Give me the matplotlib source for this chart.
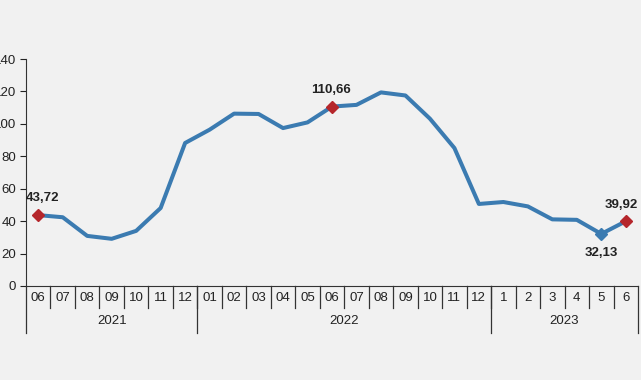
#!/usr/bin/env python3
# -*- coding: utf-8 -*-

import matplotlib
matplotlib.use('Agg')
import matplotlib.pyplot as plt
import matplotlib.transforms as mtransforms

# months shown on the lower axis, grouped by year
months = ['06', '07', '08', '09', '10', '11', '12',
          '01', '02', '03', '04', '05', '06', '07', '08', '09', '10', '11', '12',
          '1', '2', '3', '4', '5', '6']
years = ['2021', '2022', '2023']
year_sizes = [7, 12, 6]

# index values
values = [43.72, 42.4, 30.9, 29.1, 34.0, 48.1, 88.2,
          96.4, 106.3, 106.1, 97.4, 100.9, 110.66, 111.7, 119.4, 117.5, 103.2, 85.1, 50.6,
          51.8, 49.1, 41.1, 40.8, 32.13, 39.92]

# points that carry a value label: (index, text, offset x, offset y)
labelled = [(0, '43,72', 3, 12), (12, '110,66', -1, 12),
            (23, '32,13', 0, -14), (24, '39,92', -3, 12)]
red_points = [0, 12, 24]

yticks = [0, 20, 40, 60, 80, 100, 120, 140]

bg = '#f1f1f1'
line_color = '#3b7bb1'
red = '#b5262b'


def main():
    plt.rcParams['font.family'] = ['Liberation Sans Narrow', 'Liberation Sans', 'DejaVu Sans']
    fig = plt.figure(figsize=(6.41, 3.80), dpi=100, facecolor=bg)
    ax = fig.add_axes([26 / 641, 1 - 286 / 380, 612 / 641, 227 / 380])
    ax.set_facecolor(bg)

    x = list(range(len(values)))
    ax.plot(x, values, color=line_color, lw=2.9, solid_joinstyle='round', zorder=3)
    ax.plot([x[i] for i in red_points], [values[i] for i in red_points], 'D',
            color=red, ms=6.5, zorder=4)
    ax.plot([x[23]], [values[23]], 'D', color=line_color, ms=6.5, zorder=4)

    for i, txt, ox, oy in labelled:
        ax.annotate(txt, (x[i], values[i]), xytext=(ox, oy),
                    textcoords='offset points', ha='center', va='center',
                    fontsize=9.5, fontweight='bold', color='#222222')

    ax.set_xlim(-0.5, len(values) - 0.5)
    ax.set_ylim(0, 140)
    ax.set_yticks(yticks)
    ax.tick_params(axis='y', direction='out', length=4, width=0.8, pad=3,
                   labelsize=9.5, colors='#222222')
    ax.set_xticks([])
    for s in ['top', 'right']:
        ax.spines[s].set_visible(False)
    ax.spines['left'].set_color('#333333')
    ax.spines['bottom'].set_color('#333333')

    # two level category axis drawn below the plot
    trans = mtransforms.blended_transform_factory(ax.transData, ax.transAxes)
    for i, m in enumerate(months):
        ax.text(i, -0.055, m, transform=trans, ha='center', va='center',
                fontsize=9.5, color='#222222')
    for i in range(1, len(months)):
        ax.plot([i - 0.5, i - 0.5], [0, -0.097], transform=trans, color='#333333',
                lw=0.9, clip_on=False)
    start = 0
    edges = [-0.5]
    for y, n in zip(years, year_sizes):
        ax.text(start + (n - 1) / 2, -0.155, y, transform=trans, ha='center',
                va='center', fontsize=9.5, color='#222222')
        start += n
        edges.append(start - 0.5)
    for e in edges:
        ax.plot([e, e], [0, -0.205], transform=trans, color='#333333', lw=0.9,
                clip_on=False)

    fig.savefig('out.png', dpi=100, facecolor=bg)


if __name__ == '__main__':
    main()
